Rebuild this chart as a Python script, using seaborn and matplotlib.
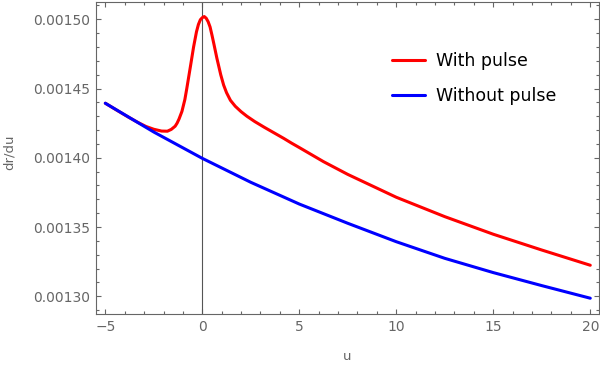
import matplotlib
matplotlib.use("Agg")
import matplotlib.pyplot as plt
import seaborn as sns
import numpy as np
import pandas as pd
from matplotlib.ticker import MultipleLocator, FormatStrFormatter

# ---- data ----
u_with = [-5.0, -4.4, -3.8, -3.3, -2.9, -2.5, -2.1, -1.8, -1.6, -1.4, -1.3, -1.2,
          -1.05, -0.9, -0.8, -0.7, -0.6, -0.45, -0.3, -0.2, -0.1, 0.0, 0.1, 0.2,
          0.3, 0.4, 0.5, 0.6, 0.75, 0.95, 1.1, 1.25, 1.45, 1.7, 2.0, 2.3, 2.7,
          3.2, 3.7, 4.2, 4.6, 5.0, 6.25, 7.5, 10.0, 12.5, 15.0, 17.5, 20.0]
dr_with = [0.0014394, 0.0014343, 0.0014293, 0.0014254, 0.0014226, 0.0014206,
           0.0014193, 0.0014192, 0.0014205, 0.0014228, 0.0014250, 0.0014280,
           0.0014335, 0.0014420, 0.0014500, 0.0014585, 0.0014670, 0.0014800,
           0.0014910, 0.0014963, 0.0014997, 0.0015012, 0.0015020, 0.0015008,
           0.0014983, 0.0014945, 0.0014885, 0.0014820, 0.0014720, 0.0014600,
           0.0014525, 0.0014470, 0.0014415, 0.0014372, 0.0014333, 0.0014300,
           0.0014262, 0.0014220, 0.0014180, 0.0014140, 0.0014106, 0.0014074,
           0.0013972, 0.0013880, 0.0013715, 0.0013575, 0.0013448, 0.0013334,
           0.0013224]

u_without = [-5.0, -2.5, 0.0, 2.5, 5.0, 7.5, 10.0, 12.5, 15.0, 17.5, 20.0]
dr_without = [0.0014394, 0.0014186, 0.0013996, 0.0013823, 0.0013666, 0.0013527,
              0.0013394, 0.0013274, 0.0013171, 0.0013077, 0.0012986]

series_labels = ["With pulse", "Without pulse"]
x_label = "u"
y_label = "dr/du"

# ---- styling ----
sns.set_theme(style="ticks")
plt.rcParams["font.family"] = ["DejaVu Sans"]
gray = "#666666"

fig = plt.figure(figsize=(6.0, 3.66), dpi=100)
ax = fig.add_axes([96 / 600, 1 - 314 / 366, (599 - 96) / 600, (314 - 2) / 366])

ax.axvline(0, color="#555555", lw=0.8, zorder=1)

sns.lineplot(x=u_with, y=dr_with, ax=ax, color="#ff0000", lw=2.2,
             label=series_labels[0], zorder=3, solid_joinstyle="round")
sns.lineplot(x=u_without, y=dr_without, ax=ax, color="#0000ff", lw=2.2,
             label=series_labels[1], zorder=3, solid_joinstyle="round")

ax.set_xlim(-5.48, 20.45)
ax.set_ylim(0.0012872, 0.0015125)

ax.xaxis.set_major_locator(MultipleLocator(5))
ax.xaxis.set_minor_locator(MultipleLocator(1))
ax.yaxis.set_major_locator(MultipleLocator(0.00005))
ax.yaxis.set_minor_locator(MultipleLocator(0.00001))
ax.yaxis.set_major_formatter(FormatStrFormatter("%.5f"))

ax.tick_params(which="both", direction="in", top=True, right=True,
               color=gray, width=0.8, labelcolor=gray, labelsize=10)
ax.tick_params(which="major", length=3.8, pad=4.3)
ax.tick_params(which="minor", length=2.3)
for s in ax.spines.values():
    s.set_color(gray)
    s.set_linewidth(0.8)

ax.set_xlabel(x_label, color=gray, fontsize=9.5)
ax.set_ylabel(y_label, color=gray, fontsize=9.5)
ax.xaxis.label.set_va("center")
ax.yaxis.label.set_va("center")
ax.xaxis.set_label_coords(0.5, (314 - 357) / 312)
ax.yaxis.set_label_coords((9 - 96) / 503, (314 - 152) / 312)

leg = ax.legend(loc="upper left", bbox_to_anchor=(0.588, 0.840), frameon=False,
                fontsize=12.5, borderaxespad=0, borderpad=0, handlelength=1.9,
                handletextpad=0.63, labelspacing=1.01)
for t in leg.get_texts():
    t.set_color("black")

fig.savefig("out.png", dpi=100)
